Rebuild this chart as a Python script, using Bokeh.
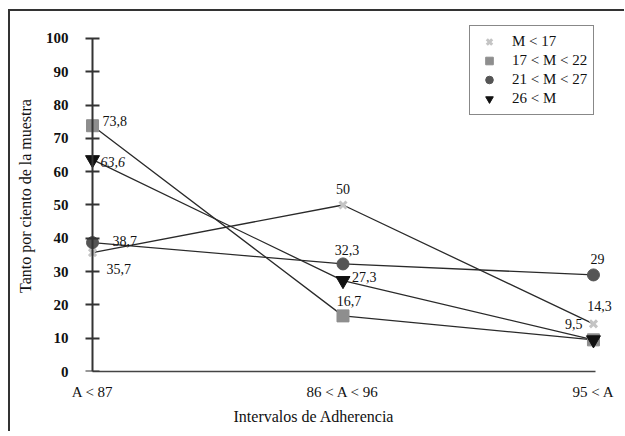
from bokeh.plotting import figure
from bokeh.models import (ColumnDataSource, FixedTicker, Range1d, Legend,
                          LegendItem, LinearAxis, Title)
from bokeh.core.properties import value
from bokeh.embed import file_html
from bokeh.resources import INLINE

# ---- data ----
categories = ["A < 87", "86 < A < 96", "95 < A"]
series_names = ["M < 17", "17 < M < 22", "21 < M < 27", "26 < M"]
m_lt_17 = [35.7, 50.0, 14.3]
m_17_22 = [73.8, 16.7, 9.5]
m_21_27 = [38.7, 32.3, 29.0]
m_gt_26 = [63.6, 27.3, 9.5]
y_ticks = [0, 10, 20, 30, 40, 50, 60, 70, 80, 90, 100]

# ---- styles ----
FONT = "Liberation Serif"
markers = ["x", "square", "circle", "inverted_triangle"]
marker_colors = ["#c4c4c4", "#8e8e8e", "#555555", "#111111"]
marker_sizes = [10, 12, 12, 14]
# label offsets (dx, dy px), alignment, shown flag
label_dx = [[14, 0, 6], [10, 6, 0], [20, 4, 4], [8, 9, -11]]
label_dy = [[16, -16, -18], [-5, -15, 0], [-2, -14, -16], [2, -4, -16]]
label_align = [["left", "center", "center"], ["left", "center", "center"],
               ["left", "center", "center"], ["left", "left", "right"]]
label_show = [[True, True, True], [True, True, False],
              [True, True, True], [True, True, True]]
label_style = [["normal"] * 3, ["normal"] * 3, ["normal"] * 3,
               ["italic", "normal", "normal"]]

xs = list(range(len(categories)))
all_series = [m_lt_17, m_17_22, m_21_27, m_gt_26]


def fmt(v):
    if float(v).is_integer():
        return str(int(v))
    return f"{v:.1f}".replace(".", ",")


p = figure(width=624, height=431, output_backend="svg", toolbar_location=None,
           x_range=Range1d(-0.048, 2.092), y_range=Range1d(0, 105.4),
           min_border_left=80, min_border_right=8, min_border_top=20,
           min_border_bottom=60)
p.outline_line_color = None
p.xgrid.visible = False
p.ygrid.visible = False
p.border_fill_alpha = 0
p.styles = {"box-shadow": ("inset 8px 0 0 0 #ffffff, inset 0 9px 0 0 #ffffff, "
                           "inset 10px 0 0 0 #333333, inset 0 11px 0 0 #333333")}

# lines
for ys in all_series:
    p.line(xs, ys, line_color="#2a2a2a", line_width=1.3)

# markers (triangle last)
marker_renderers = []
for ys, mk, col, sz in zip(all_series, markers, marker_colors, marker_sizes):
    if mk == "x":
        r = p.scatter(xs, ys, marker=mk, size=sz, line_color=col, line_width=3)
    else:
        r = p.scatter(xs, ys, marker=mk, size=sz, fill_color=col, line_color=col)
    marker_renderers.append(r)

# value labels
lx, ly, lt, ldx, ldy, lal, lst = [], [], [], [], [], [], []
for si, ys in enumerate(all_series):
    for i, v in enumerate(ys):
        if not label_show[si][i]:
            continue
        lx.append(xs[i]); ly.append(v); lt.append(fmt(v))
        ldx.append(label_dx[si][i]); ldy.append(label_dy[si][i])
        lal.append(label_align[si][i]); lst.append(label_style[si][i])
src = ColumnDataSource(dict(x=lx, y=ly, t=lt, dx=ldx, dy=ldy, al=lal, st=lst))
p.text(x="x", y="y", text="t", x_offset="dx", y_offset="dy", text_align="al",
       text_font_style="st", text_baseline="middle", text_font=value(FONT),
       text_font_size="14px", text_color="#111111", source=src)

# left axis: labels + title only
ya = p.yaxis[0]
ya.ticker = FixedTicker(ticks=y_ticks)
ya.axis_line_color = None
ya.major_tick_line_color = None
ya.minor_tick_line_color = None
ya.major_tick_in = 0
ya.major_tick_out = 0
ya.major_label_standoff = 12
ya.major_label_text_font = FONT
ya.major_label_text_font_size = "15px"
ya.major_label_text_font_style = "bold"
ya.major_label_text_color = "#111111"
ya.axis_label = "Tanto por ciento de la muestra"
ya.axis_label_text_font = FONT
ya.axis_label_text_font_size = "16px"
ya.axis_label_text_font_style = "normal"
ya.axis_label_text_color = "#111111"
ya.axis_label_standoff = 9

# axis line + ticks placed at the first category
ya2 = LinearAxis(fixed_location=0, bounds=(0, 100),
                 ticker=FixedTicker(ticks=y_ticks))
ya2.axis_line_color = "#333333"
ya2.axis_line_width = 2
ya2.major_tick_line_color = "#333333"
ya2.major_tick_line_width = 2
ya2.major_tick_in = 7
ya2.major_tick_out = 7
ya2.minor_tick_line_color = None
ya2.major_label_standoff = 0
ya2.major_label_text_font_size = "0px"
ya2.major_label_text_alpha = 0
p.add_layout(ya2, "right")

# x axis
xa = p.xaxis[0]
xa.bounds = (0, 2.01)
xa.ticker = FixedTicker(ticks=xs)
xa.major_label_overrides = {i: c for i, c in zip(xs, categories)}
xa.axis_line_color = "#444444"
xa.axis_line_width = 1.5
xa.major_tick_line_color = None
xa.minor_tick_line_color = None
xa.major_tick_in = 0
xa.major_tick_out = 0
xa.major_label_standoff = 12
xa.major_label_text_font = FONT
xa.major_label_text_font_size = "15px"
xa.major_label_text_color = "#111111"

xtitle = Title(text="Intervalos de Adherencia", align="left", offset=153,
               text_font=FONT, text_font_size="16px", text_font_style="normal",
               text_color="#111111", standoff=6)
p.add_layout(xtitle, "below")

legend = Legend(items=[LegendItem(label=n, renderers=[r])
                       for n, r in zip(series_names, marker_renderers)],
                location=(389, 256))
legend.border_line_color = "#111111"
legend.border_line_width = 1.5
legend.padding = 6
legend.spacing = 0
legend.margin = 0
legend.glyph_width = 26
legend.glyph_height = 19
legend.label_height = 19
legend.label_standoff = 10
legend.label_text_font = FONT
legend.label_text_font_size = "15px"
legend.label_text_color = "#111111"
legend.background_fill_alpha = 1.0
p.add_layout(legend, "center")

open("out.html", "w").write(file_html(p, INLINE))
